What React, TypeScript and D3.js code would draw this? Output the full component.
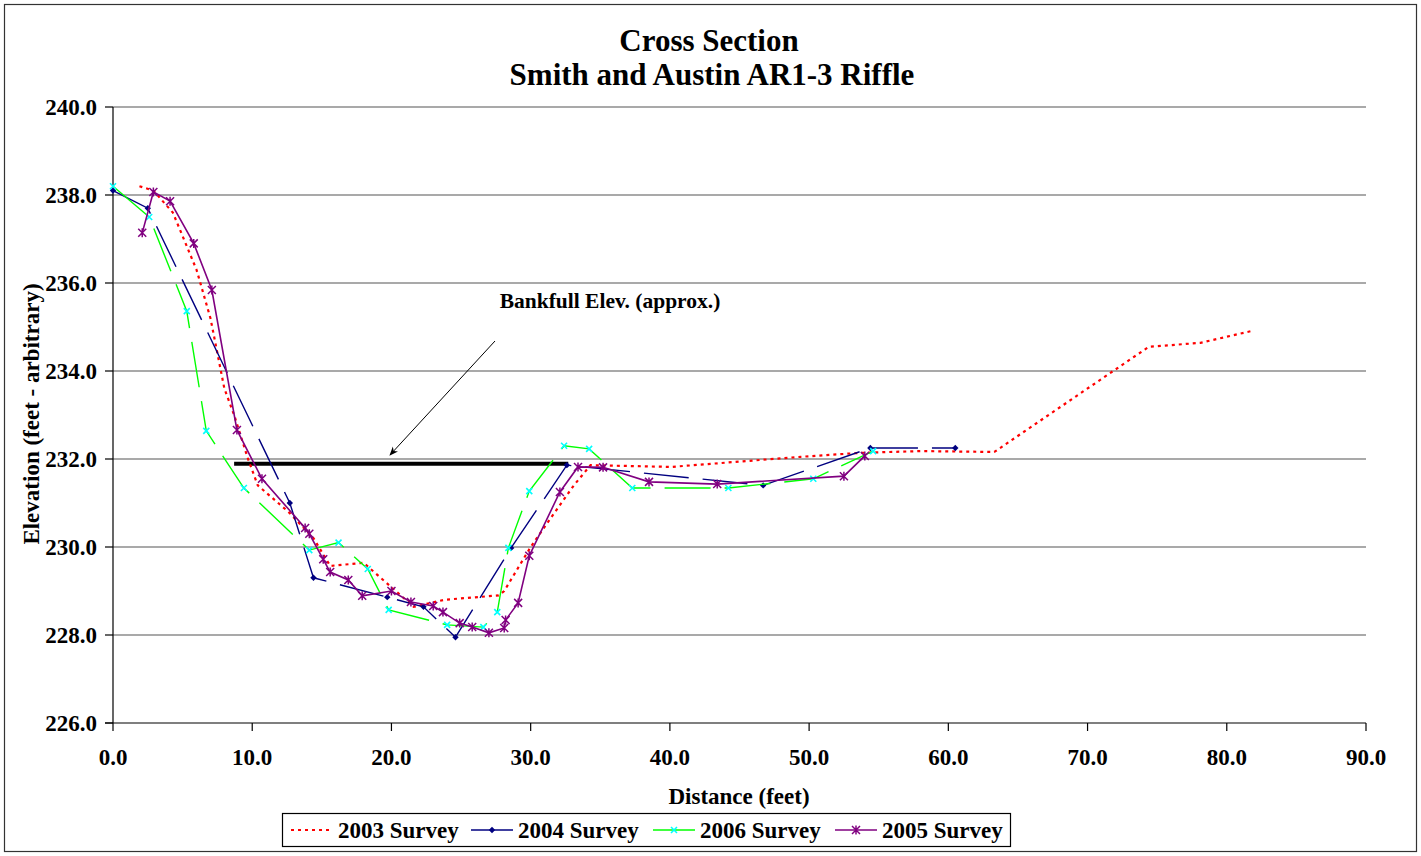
import React from "react";
import * as d3 from "d3";

// distance (ft), elevation (ft)
const survey2003: [number, number][] = [
  [1.9, 238.2], [2.9, 238.1], [4.3, 237.6], [6.0, 236.3], [7.0, 235.2], [8.0, 233.6],
  [8.7, 233.0], [9.7, 232.0], [10.4, 231.4], [12.6, 230.8], [14.4, 230.2], [15.6, 229.57],
  [18.0, 229.64], [21.6, 228.64], [23.8, 228.8], [27.7, 228.9], [28.1, 229.0], [30.0, 230.0],
  [31.2, 230.55], [33.1, 231.4], [34.3, 231.86], [40.1, 231.82], [49.4, 232.05], [53.7, 232.14],
  [58.0, 232.18], [63.3, 232.16], [74.4, 234.55], [78.1, 234.64], [81.8, 234.91],
];
const survey2004: [number, number][] = [
  [0, 238.1], [2.5, 237.7], [12.7, 231.0], [14.4, 229.3], [19.7, 228.86], [22.3, 228.64],
  [24.6, 227.95], [28.6, 229.98], [32.6, 231.86], [46.7, 231.4], [54.4, 232.25], [60.5, 232.25],
];
const survey2006: [number, number][] = [
  [0, 238.2], [2.6, 237.5], [5.3, 235.36], [6.7, 232.64], [9.4, 231.34], [14.1, 229.93],
  [16.2, 230.1], [18.3, 229.5], [19.8, 228.57], [24.0, 228.23], [26.6, 228.18], [27.6, 228.52],
  [28.4, 229.98], [29.9, 231.27], [32.4, 232.3], [34.2, 232.23], [37.3, 231.34], [44.2, 231.34],
  [50.3, 231.55], [54.6, 232.18],
];
const survey2005: [number, number][] = [
  [2.1, 237.14], [2.9, 238.07], [4.1, 237.86], [5.8, 236.9], [7.1, 235.84], [8.9, 232.66],
  [10.7, 231.55], [13.8, 230.43], [14.1, 230.3], [15.1, 229.72], [15.6, 229.43], [16.9, 229.25],
  [17.9, 228.89], [20.0, 229.0], [21.4, 228.75], [23.0, 228.66], [23.7, 228.52], [24.9, 228.27],
  [25.8, 228.18], [27.0, 228.05], [28.1, 228.16], [28.2, 228.34], [29.1, 228.73], [29.9, 229.8],
  [32.1, 231.25], [33.4, 231.82], [35.2, 231.81], [38.5, 231.48], [43.4, 231.43], [52.5, 231.61],
  [54.0, 232.07],
];
const bankfull: [number, number][] = [[8.7, 231.89], [32.7, 231.89]];

const xTicks = [0, 10, 20, 30, 40, 50, 60, 70, 80, 90];
const yTicks = [226, 228, 230, 232, 234, 236, 238, 240];

const FONT = "'Liberation Serif', 'Times New Roman', serif";

type Marker = "none" | "diamond" | "x" | "star";

const series = [
  { name: "2003 Survey", data: survey2003, color: "#FF0000", mcolor: "#FF0000", dash: "3,4", width: 2.2, marker: "none" as Marker },
  { name: "2004 Survey", data: survey2004, color: "#000080", mcolor: "#000080", dash: "45,14", width: 1.4, marker: "diamond" as Marker },
  { name: "2006 Survey", data: survey2006, color: "#00FF00", mcolor: "#00FFFF", dash: "46,14", width: 1.4, marker: "x" as Marker },
  { name: "2005 Survey", data: survey2005, color: "#800080", mcolor: "#800080", dash: "", width: 1.6, marker: "star" as Marker },
];

function drawMarker(kind: Marker, x: number, y: number, color: string, key: string) {
  if (kind === "diamond") {
    const s = 3.2;
    return <path key={key} d={`M${x},${y - s}L${x + s},${y}L${x},${y + s}L${x - s},${y}Z`} fill={color} />;
  }
  if (kind === "x") {
    const s = 3;
    return <path key={key} d={`M${x - s},${y - s}L${x + s},${y + s}M${x - s},${y + s}L${x + s},${y - s}`} stroke={color} strokeWidth={1.6} />;
  }
  if (kind === "star") {
    const s = 4;
    return (
      <path key={key} d={`M${x - s},${y - s}L${x + s},${y + s}M${x - s},${y + s}L${x + s},${y - s}M${x},${y - s - 0.5}L${x},${y + s + 0.5}`}
        stroke={color} strokeWidth={1.5} />
    );
  }
  return null;
}

export default function App() {
  const W = 1421, H = 856;
  const x = d3.scaleLinear().domain([0, 90]).range([113, 1366]);
  const y = d3.scaleLinear().domain([226, 240]).range([723, 107]);
  const line = d3.line<[number, number]>().x(d => x(d[0])).y(d => y(d[1]));

  const legendText = [338, 518, 700, 882];

  return (
    <svg width={W} height={H} style={{ position: "absolute", left: 0, top: 0 }} fontFamily={FONT}>
      <defs>
        <marker id="arrow" viewBox="0 0 10 10" refX="9" refY="5" markerWidth="9" markerHeight="9" orient="auto">
          <path d="M0,1L10,5L0,9L3,5Z" fill="#000" />
        </marker>
      </defs>
      <rect x={0} y={0} width={W} height={H} fill="#fff" />
      <rect x={4.5} y={4.5} width={1412} height={847} fill="none" stroke="#333" strokeWidth={1.2} />

      <text x={709} y={51} textAnchor="middle" fontSize={31} fontWeight="bold">Cross Section</text>
      <text x={712} y={85} textAnchor="middle" fontSize={31} fontWeight="bold">Smith and Austin AR1-3 Riffle</text>

      {/* grid */}
      {yTicks.filter(t => t > 226).map(t => (
        <line key={t} x1={113} x2={1366} y1={y(t)} y2={y(t)} stroke="#555" strokeWidth={1.2} />
      ))}
      {/* axes */}
      <line x1={113} x2={113} y1={107} y2={723} stroke="#000" strokeWidth={1.2} />
      <line x1={105} x2={1366} y1={723} y2={723} stroke="#000" strokeWidth={1.2} />
      {yTicks.map(t => (
        <g key={t}>
          <line x1={105} x2={113} y1={y(t)} y2={y(t)} stroke="#000" strokeWidth={1.2} />
          <text x={97} y={y(t)} dy="0.35em" textAnchor="end" fontSize={23} fontWeight="bold">{t.toFixed(1)}</text>
        </g>
      ))}
      {xTicks.map(t => (
        <g key={t}>
          <line x1={x(t)} x2={x(t)} y1={723} y2={731} stroke="#000" strokeWidth={1.2} />
          <text x={x(t)} y={765} textAnchor="middle" fontSize={23} fontWeight="bold">{t.toFixed(1)}</text>
        </g>
      ))}
      <text x={739} y={804} textAnchor="middle" fontSize={23} fontWeight="bold">Distance (feet)</text>
      <text transform="translate(39,414) rotate(-90)" textAnchor="middle" fontSize={23} fontWeight="bold">Elevation (feet - arbitrary)</text>

      {/* bankfull */}
      <path d={line(bankfull) || ""} stroke="#000" strokeWidth={4} fill="none" />
      <line x1={495} y1={341} x2={390} y2={455} stroke="#000" strokeWidth={1} markerEnd="url(#arrow)" />
      <text x={610} y={308} textAnchor="middle" fontSize={21.5} fontWeight="bold">Bankfull Elev. (approx.)</text>

      {series.map(s => (
        <g key={s.name}>
          <path d={line(s.data) || ""} fill="none" stroke={s.color} strokeWidth={s.width} strokeDasharray={s.dash || undefined} />
          {s.data.map((d, i) => drawMarker(s.marker, x(d[0]), y(d[1]), s.mcolor, s.name + i))}
        </g>
      ))}

      {/* legend */}
      <rect x={282.5} y={813.5} width={728} height={33} fill="#fff" stroke="#000" strokeWidth={1.2} />
      {series.map((s, i) => {
        const tx = legendText[i];
        const lx = tx - 47;
        return (
          <g key={s.name}>
            <line x1={lx} x2={lx + 42} y1={830} y2={830} stroke={s.color} strokeWidth={s.width} strokeDasharray={s.marker === "none" ? s.dash : undefined} />
            {drawMarker(s.marker, lx + 21, 830, s.mcolor, "lg" + i)}
            <text x={tx} y={830} dy="0.35em" fontSize={23} fontWeight="bold">{s.name}</text>
          </g>
        );
      })}
    </svg>
  );
}
